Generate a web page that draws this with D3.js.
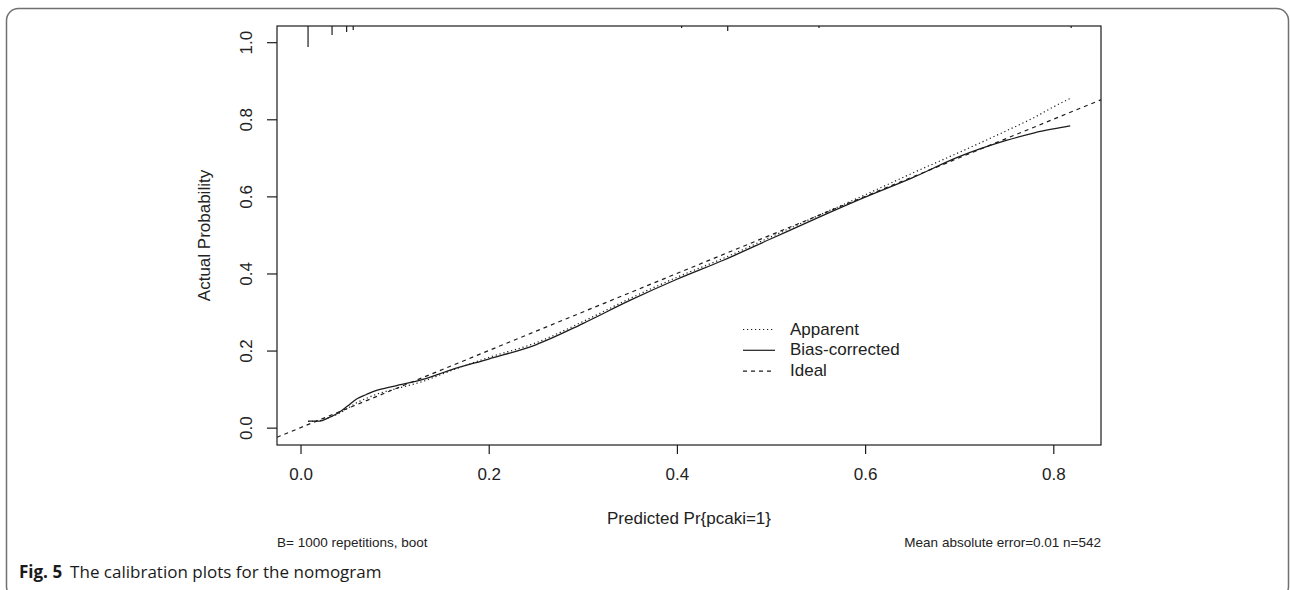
<!DOCTYPE html>
<html>
<head>
<meta charset="utf-8">
<script src="https://cdn.jsdelivr.net/npm/d3@7"></script>
<style>
  html, body { margin: 0; padding: 0; background: #fff; }
  svg { display: block; }
</style>
</head>
<body>
<svg id="chart" width="1290" height="590"></svg>
<script>
// ---- data ----
const xTicks = [0.0, 0.2, 0.4, 0.6, 0.8];
const yTicks = [0.0, 0.2, 0.4, 0.6, 0.8, 1.0];
const predicted     = [0.008, 0.02, 0.03, 0.04, 0.05, 0.06, 0.07, 0.08, 0.10, 0.13, 0.16, 0.20, 0.25, 0.30, 0.35, 0.40, 0.45, 0.50, 0.55, 0.60, 0.65, 0.70, 0.75, 0.78, 0.80, 0.818];
const biasCorrected = [0.017, 0.017, 0.026, 0.038, 0.056, 0.075, 0.086, 0.096, 0.108, 0.125, 0.150, 0.178, 0.215, 0.270, 0.330, 0.385, 0.435, 0.490, 0.545, 0.598, 0.648, 0.703, 0.745, 0.765, 0.775, 0.783];
const apparent      = [0.016, 0.018, 0.026, 0.036, 0.050, 0.065, 0.076, 0.086, 0.100, 0.120, 0.148, 0.182, 0.220, 0.275, 0.335, 0.390, 0.440, 0.495, 0.550, 0.604, 0.660, 0.714, 0.770, 0.805, 0.832, 0.854];
const rugX    = [0.008, 0.0335, 0.049, 0.056, 0.405, 0.454, 0.551, 0.819];
const rugFreq = [1.0, 0.43, 0.29, 0.19, 0.10, 0.24, 0.10, 0.10];
const legendLabels = ["Apparent", "Bias-corrected", "Ideal"];
const xTitle = "Predicted Pr{pcaki=1}";
const yTitle = "Actual Probability";
const subLeft = "B= 1000 repetitions, boot";
const subRight = "Mean absolute error=0.01 n=542";
const captionBold = "Fig. 5";
const captionText = "The calibration plots for the nomogram";

// ---- layout ----
const svg = d3.select("#chart");
const L = 277, R = 1101, T = 26, B = 445;
const ink = "#1c1c1c";
const fontR = "'Liberation Sans', Arial, sans-serif";

const x = d3.scaleLinear().domain([-0.025, 0.8507]).range([L, R]);
const y = d3.scaleLinear().domain([-0.045, 1.042]).range([B, T]);

// outer frame
svg.append("rect")
  .attr("x", 6.5).attr("y", 8.5)
  .attr("width", 1282).attr("height", 590)
  .attr("rx", 12).attr("ry", 12)
  .attr("fill", "none").attr("stroke", "#707070").attr("stroke-width", 1.5);

svg.append("defs").append("clipPath").attr("id", "plotclip")
  .append("rect").attr("x", L).attr("y", T).attr("width", R - L).attr("height", B - T);

// axes
const xAxis = d3.axisBottom(x).tickValues(xTicks).tickFormat(d3.format(".1f")).tickSize(9).tickPadding(14);
const gx = svg.append("g").attr("transform", `translate(0,${B})`).call(xAxis);
gx.select(".domain").remove();
gx.selectAll(".tick line").attr("stroke", ink).attr("stroke-width", 1.2);
gx.selectAll(".tick text").attr("fill", "#222").attr("font-family", fontR).attr("font-size", 17);

const yAxis = d3.axisLeft(y).tickValues(yTicks).tickFormat(d3.format(".1f")).tickSize(10);
const gy = svg.append("g").attr("transform", `translate(${L},0)`).call(yAxis);
gy.select(".domain").remove();
gy.selectAll(".tick line").attr("stroke", ink).attr("stroke-width", 1.2);
gy.selectAll(".tick text")
  .attr("fill", "#222").attr("font-family", fontR).attr("font-size", 17)
  .attr("x", null).attr("dy", null)
  .attr("text-anchor", "middle")
  .attr("transform", "translate(-25,0) rotate(-90)");

// plot box
svg.append("rect").attr("x", L).attr("y", T).attr("width", R - L).attr("height", B - T)
  .attr("fill", "none").attr("stroke", ink).attr("stroke-width", 1.2);

// rug at top
const rugLen = d3.scaleLinear().domain([0, 1]).range([0, 21]);
svg.append("g").selectAll("line").data(rugX).join("line")
  .attr("x1", d => x(d)).attr("x2", d => x(d))
  .attr("y1", T).attr("y2", (d, i) => T + Math.max(2, rugLen(rugFreq[i])))
  .attr("stroke", ink).attr("stroke-width", 1.2);

// lines
const plot = svg.append("g").attr("clip-path", "url(#plotclip)");
const line = d3.line().x(d => x(d[0])).y(d => y(d[1])).curve(d3.curveMonotoneX);

// ideal
const ideal = x.domain().map(v => [v, v]);
plot.append("path").datum(ideal).attr("d", d3.line().x(d => x(d[0])).y(d => y(d[1])))
  .attr("fill", "none").attr("stroke", ink).attr("stroke-width", 1.2).attr("stroke-dasharray", "4,4");

plot.append("path").datum(predicted.map((p, i) => [p, apparent[i]])).attr("d", line)
  .attr("fill", "none").attr("stroke", ink).attr("stroke-width", 1.2).attr("stroke-dasharray", "1.2,2.8");

plot.append("path").datum(predicted.map((p, i) => [p, biasCorrected[i]])).attr("d", line)
  .attr("fill", "none").attr("stroke", ink).attr("stroke-width", 1.3);

// legend
const dashes = ["1.2,2.8", null, "4,4"];
const lg = svg.append("g");
legendLabels.forEach((lab, i) => {
  const cy = 328.5 + i * 20.8;
  lg.append("line").attr("x1", 743).attr("x2", 775).attr("y1", cy + 1).attr("y2", cy + 1)
    .attr("stroke", ink).attr("stroke-width", 1.2).attr("stroke-dasharray", dashes[i]);
  lg.append("text").attr("x", 790).attr("y", cy + 6).text(lab)
    .attr("font-family", fontR).attr("font-size", 17).attr("fill", "#222");
});

// titles
svg.append("text").attr("x", (L + R) / 2).attr("y", 524).attr("text-anchor", "middle")
  .attr("font-family", fontR).attr("font-size", 17).attr("fill", "#222").text(xTitle);
svg.append("text").attr("transform", `translate(210,${(T + B) / 2}) rotate(-90)`).attr("text-anchor", "middle")
  .attr("font-family", fontR).attr("font-size", 17).attr("fill", "#222").text(yTitle);

svg.append("text").attr("x", L).attr("y", 547).attr("font-family", fontR).attr("font-size", 13.5)
  .attr("fill", "#222").text(subLeft);
svg.append("text").attr("x", R).attr("y", 547).attr("text-anchor", "end").attr("font-family", fontR)
  .attr("font-size", 13.5).attr("fill", "#222").text(subRight);

// caption
const cap = svg.append("text").attr("x", 19).attr("y", 578)
  .attr("font-family", "'Open Sans', 'Noto Sans', sans-serif").attr("font-size", 17).attr("fill", "#1a1a1a");
cap.append("tspan").attr("font-weight", "bold").text(captionBold);
cap.append("tspan").attr("dx", 8).text(captionText);
</script>
</body>
</html>
